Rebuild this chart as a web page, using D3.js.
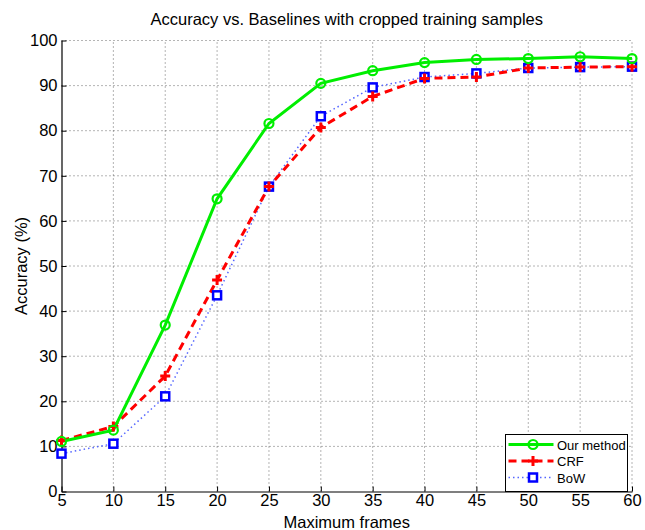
<!DOCTYPE html>
<html>
<head>
<meta charset="utf-8">
<script src="https://cdn.jsdelivr.net/npm/d3@7"></script>
<style>
body { margin: 0; background: #fff; }
text { font-family: "Liberation Sans", Arial, sans-serif; }
</style>
</head>
<body>
<div id="chart"></div>
<script>
var frames = [5, 10, 15, 20, 25, 30, 35, 40, 45, 50, 55, 60]
var ourMethod = [11.1, 13.6, 36.9, 64.9, 81.6, 90.5, 93.3, 95.1, 95.8, 96.0, 96.4, 96.0]
var crf = [11.3, 14.4, 25.6, 46.9, 67.6, 80.7, 87.6, 91.6, 91.9, 93.9, 94.1, 94.2]
var bow = [8.4, 10.6, 21.1, 43.5, 67.6, 83.2, 89.6, 91.9, 92.7, 93.9, 94.1, 94.2]
var yTicks = [0, 10, 20, 30, 40, 50, 60, 70, 80, 90, 100]
var seriesNames = ['Our method', 'CRF', 'BoW']

var W = 645, H = 530
var m = {left: 61.5, right: 13, top: 40.5, bottom: 38.5}

var svg = d3.select('#chart').append('svg').attr('width', W).attr('height', H)

var x = d3.scaleLinear().domain([5, 60]).range([m.left, W - m.right])
var y = d3.scaleLinear().domain([0, 100]).range([H - m.bottom, m.top])

// grid
svg.append('g').selectAll('line').data(frames.slice(1)).enter().append('line')
	.attr('x1', function(d){return x(d)}).attr('x2', function(d){return x(d)})
	.attr('y1', y(0)).attr('y2', y(100))
	.attr('stroke', '#444').attr('stroke-width', 0.8).attr('stroke-dasharray', '1,3')
svg.append('g').selectAll('line').data(yTicks.slice(1)).enter().append('line')
	.attr('x1', x(5)).attr('x2', x(60))
	.attr('y1', function(d){return y(d)}).attr('y2', function(d){return y(d)})
	.attr('stroke', '#444').attr('stroke-width', 0.8).attr('stroke-dasharray', '1,3')

// axes (ticks inward)
var xAxis = svg.append('g').attr('transform', 'translate(0,' + y(0) + ')')
	.call(d3.axisBottom(x).tickValues(frames).tickSize(-5).tickPadding(3).tickSizeOuter(0))
var yAxis = svg.append('g').attr('transform', 'translate(' + x(5) + ',0)')
	.call(d3.axisLeft(y).tickValues(yTicks).tickSize(-5).tickPadding(4).tickSizeOuter(0))
svg.selectAll('.domain').attr('stroke', '#000').attr('stroke-width', 1.2)
svg.selectAll('.tick line').attr('stroke', '#000')
svg.selectAll('.tick text').attr('font-size', 16.5).attr('fill', '#000').style('font-family', '"Liberation Sans", Arial, sans-serif')
xAxis.selectAll('.tick text').attr('y', 3).attr('dy', '0.71em')
yAxis.selectAll('.tick text').attr('x', -4)

// lines
var line = function(vals){
	return d3.line().x(function(d, i){return x(frames[i])}).y(function(d){return y(d)})(vals)
}
svg.append('path').attr('d', line(bow)).attr('fill', 'none')
	.attr('stroke', '#5566ff').attr('stroke-width', 1.5).attr('stroke-dasharray', '1.5,3')
svg.append('path').attr('d', line(crf)).attr('fill', 'none')
	.attr('stroke', '#ff0000').attr('stroke-width', 3).attr('stroke-dasharray', '8,5')
svg.append('path').attr('d', line(ourMethod)).attr('fill', 'none')
	.attr('stroke', '#00ee00').attr('stroke-width', 3)

// markers
function square(g, cx, cy) {
	g.append('rect').attr('x', cx - 4).attr('y', cy - 4).attr('width', 8).attr('height', 8)
		.attr('fill', '#fff').attr('stroke', '#0000ff').attr('stroke-width', 2.5)
}
function plus(g, cx, cy) {
	g.append('path').attr('d', 'M' + (cx - 5) + ',' + cy + 'H' + (cx + 5) + 'M' + cx + ',' + (cy - 5) + 'V' + (cy + 5))
		.attr('stroke', '#ff0000').attr('stroke-width', 3).attr('fill', 'none')
}
function ring(g, cx, cy) {
	g.append('circle').attr('cx', cx).attr('cy', cy).attr('r', 4.5)
		.attr('fill', 'none').attr('stroke', '#00ee00').attr('stroke-width', 2.2)
}
var mk = svg.append('g')
bow.forEach(function(d, i){ square(mk, x(frames[i]), y(d)) })
crf.forEach(function(d, i){ plus(mk, x(frames[i]), y(d)) })
ourMethod.forEach(function(d, i){ ring(mk, x(frames[i]), y(d)) })

// title & labels
svg.append('text').attr('x', (x(5) + x(60)) / 2).attr('y', 25).attr('text-anchor', 'middle')
	.attr('font-size', 16.5).text('Accuracy vs. Baselines with cropped training samples')
svg.append('text').attr('x', (x(5) + x(60)) / 2).attr('y', 528).attr('text-anchor', 'middle')
	.attr('font-size', 16.5).text('Maximum frames')
svg.append('text').attr('transform', 'translate(27,' + ((y(0) + y(100)) / 2) + ') rotate(-90)')
	.attr('text-anchor', 'middle').attr('font-size', 16.5).text('Accuracy (%)')

// legend
var lg = svg.append('g').attr('transform', 'translate(505.5,434.5)')
lg.append('rect').attr('width', 122).attr('height', 57).attr('fill', '#fff').attr('stroke', '#000').attr('stroke-width', 1)
var styles = [
	{c: '#00ee00', w: 3, dash: null, m: ring},
	{c: '#ff0000', w: 3, dash: '8,5', m: plus},
	{c: '#5566ff', w: 1.5, dash: '1.5,3', m: square}
]
seriesNames.forEach(function(name, i){
	var ly = 10 + i * 16.5
	lg.append('line').attr('x1', 3).attr('x2', 48).attr('y1', ly).attr('y2', ly)
		.attr('stroke', styles[i].c).attr('stroke-width', styles[i].w).attr('stroke-dasharray', styles[i].dash)
	styles[i].m(lg, 27.5, ly)
	lg.append('text').attr('x', 51.5).attr('y', ly + 5).attr('font-size', 13).text(name)
})
</script>
</body>
</html>
